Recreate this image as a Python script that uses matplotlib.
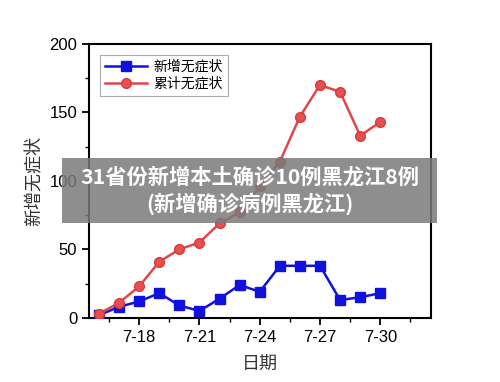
import matplotlib
matplotlib.use("Agg")
import matplotlib.pyplot as plt
from matplotlib.patches import Rectangle
from matplotlib.ticker import MultipleLocator

CJK = ["Noto Sans CJK SC", "DejaVu Sans"]
plt.rcParams["font.family"] = ["Liberation Sans", "Noto Sans CJK SC", "DejaVu Sans"]

days = [16, 17, 18, 19, 20, 21, 22, 23, 24, 25, 26, 27, 28, 29, 30]
new_asym = [2, 8, 12, 18, 9, 5, 14, 24, 19, 38, 38, 38, 13, 15, 18]
total_asym = [3, 11, 23, 41, 50, 55, 69, 77, 96, 114, 147, 170, 165, 133, 143]
tick_days = [18, 21, 24, 27, 30]
tick_labels = [f"7-{d}" for d in tick_days]

fig = plt.figure(figsize=(5, 3.82), dpi=100)
ax = fig.add_axes([0.178, 0.168, 0.683, 0.717])

ax.plot(days, new_asym, color="#1010e0", lw=1.8, marker="s", ms=6.5,
        mec="#1010e0", mfc="#1010e0", label="新增无症状", zorder=3)
ax.plot(days, total_asym, color="#e04848", lw=1.8, marker="o", ms=7,
        mec="#d83a3a", mfc="#e85050", label="累计无症状", zorder=3)

ax.set_xlim(15.5, 32.5)
ax.set_ylim(0, 200)
ax.set_xticks(tick_days)
ax.set_xticklabels(tick_labels)
ax.xaxis.set_minor_locator(MultipleLocator(1.5))
ax.yaxis.set_major_locator(MultipleLocator(50))
ax.yaxis.set_minor_locator(MultipleLocator(25))
ax.tick_params(which="major", direction="out", length=5, width=1.3, labelsize=12)
ax.tick_params(which="minor", direction="out", length=3, width=1)
for s in ax.spines.values():
    s.set_linewidth(1.5)

ax.set_xlabel("日期", family=CJK, fontsize=13, color="#333333", labelpad=8)
ax.set_ylabel("新增无症状", family=CJK, fontsize=13, color="#333333", labelpad=4)

leg = ax.legend(loc="upper left", prop={"family": CJK, "size": 10},
                frameon=True, fancybox=False, edgecolor="#999999",
                handlelength=3, borderaxespad=0.8, labelspacing=0.2,
                handletextpad=0.5, borderpad=0.35)
leg.get_frame().set_linewidth(0.8)

# caption banner over the chart
fig.patches.append(Rectangle((0.124, 0.416), 0.75, 0.170, transform=fig.transFigure,
                             facecolor="#7a7a7a", alpha=0.85, edgecolor="none", zorder=5))
fig.text(0.5, 0.537, "31省份新增本土确诊10例黑龙江8例", family=CJK, fontsize=15.3,
         fontweight="bold", color="white", ha="center", va="center", zorder=6)
fig.text(0.5, 0.468, "(新增确诊病例黑龙江)", family=CJK, fontsize=15.3,
         fontweight="bold", color="white", ha="center", va="center", zorder=6)

fig.savefig("out.png", dpi=100)
